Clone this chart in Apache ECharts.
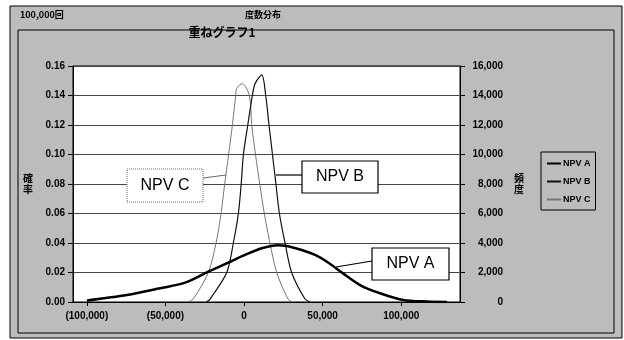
<!DOCTYPE html>
<html>
<head>
<meta charset="utf-8">
<script src="https://cdn.jsdelivr.net/npm/echarts@6/dist/echarts.min.js"></script>
<style>html,body{margin:0;padding:0;background:#fff}#c{width:624px;height:340px}</style>
</head>
<body>
<div id="c"></div>
<script>
// ---- data (value, probability) ----
const seriesNames = ['NPV A', 'NPV B', 'NPV C'];
const npvA = [
  [-99900, 0.001], [-74400, 0.0047], [-53400, 0.0093], [-37500, 0.0131], [-22700, 0.0206],
  [-7800, 0.0278], [600, 0.0319], [11300, 0.0364], [21800, 0.0384], [26100, 0.0382],
  [36700, 0.0353], [45200, 0.0319], [52800, 0.0273], [63000, 0.0194], [73800, 0.0115],
  [86500, 0.0059], [101100, 0.0014], [116400, 0.0003], [129100, 0.0]
];
const npvB = [
  [-24000, 0.0], [-21600, 0.002], [-11000, 0.02], [-6800, 0.04], [-3600, 0.06], [-1800, 0.08],
  [-400, 0.10], [2400, 0.12], [5300, 0.14], [7000, 0.148], [11300, 0.154], [13800, 0.14],
  [15900, 0.12], [18100, 0.10], [20300, 0.08], [22500, 0.06], [26100, 0.04], [30300, 0.02],
  [38800, 0.002], [42000, 0.0]
];
const npvC = [
  [-36000, 0.0], [-32400, 0.002], [-22700, 0.02], [-17800, 0.04], [-14600, 0.06], [-12300, 0.08],
  [-9800, 0.10], [-7400, 0.12], [-5300, 0.14], [-4600, 0.145], [-1100, 0.148], [3400, 0.14],
  [4900, 0.12], [7300, 0.10], [10000, 0.08], [12900, 0.06], [16500, 0.04], [20800, 0.02],
  [28000, 0.002], [31000, 0.0]
];
const xTicks = [-100000, -50000, 0, 50000, 100000];
const mainTitle = '重ねグラフ1';
const topLeftText = '100,000回';
const topCenterText = '度数分布';
const leftAxisName = '確\n率';
const rightAxisName = '頻\n度';

function fmtNum(v) {
  const s = Math.abs(v).toLocaleString('en-US');
  return v < 0 ? '(' + s + ')' : s;
}

const FONT = '"Liberation Sans", Arial, sans-serif';
const JFONT = '"Noto Sans CJK JP", sans-serif';
const bg = '#bcbcbc';

const chart = echarts.init(document.getElementById('c'));
chart.setOption({
  animation: false,
  backgroundColor: '#fff',
  textStyle: { fontFamily: FONT },
  graphic: [
    { type: 'rect', z: -10, shape: { x: 10, y: 6, width: 612, height: 332 },
      style: { fill: bg, stroke: '#000', lineWidth: 1 } },
    { type: 'rect', z: -9, shape: { x: 18, y: 30, width: 596, height: 303 },
      style: { fill: 'none', stroke: '#000', lineWidth: 1 } },
    { type: 'text', x: 20, y: 10, style: { text: topLeftText, font: 'bold 9px ' + JFONT, fill: '#000' } },
    { type: 'text', x: 263, y: 10, style: { text: topCenterText, font: 'bold 9px ' + JFONT, fill: '#000', align: 'center' } },
    { type: 'text', x: 222, y: 26, z: 10, style: { text: mainTitle, font: 'bold 12px ' + JFONT, fill: '#000', align: 'center' } },
    // label boxes
    { type: 'line', z: 20, shape: { x1: 203, y1: 178, x2: 226, y2: 175 }, style: { stroke: '#666', lineWidth: 1 } },
    { type: 'rect', z: 20, shape: { x: 127, y: 169, width: 76, height: 33 },
      style: { fill: '#fff', stroke: '#666', lineWidth: 1, lineDash: [1, 1] } },
    { type: 'text', z: 21, x: 165, y: 185.5, style: { text: 'NPV C', font: '16px ' + FONT, fill: '#000', align: 'center', verticalAlign: 'middle' } },
    { type: 'line', z: 20, shape: { x1: 276, y1: 175, x2: 302, y2: 175 }, style: { stroke: '#000', lineWidth: 1.2 } },
    { type: 'rect', z: 20, shape: { x: 302, y: 161, width: 76, height: 32 },
      style: { fill: '#fff', stroke: '#000', lineWidth: 1.2 } },
    { type: 'text', z: 21, x: 340, y: 177, style: { text: 'NPV B', font: '16px ' + FONT, fill: '#000', align: 'center', verticalAlign: 'middle' } },
    { type: 'line', z: 20, shape: { x1: 336, y1: 267, x2: 372, y2: 261 }, style: { stroke: '#000', lineWidth: 1.2 } },
    { type: 'rect', z: 20, shape: { x: 372, y: 248, width: 77, height: 32 },
      style: { fill: '#fff', stroke: '#000', lineWidth: 1.2 } },
    { type: 'text', z: 21, x: 410.5, y: 264, style: { text: 'NPV A', font: '16px ' + FONT, fill: '#000', align: 'center', verticalAlign: 'middle' } }
  ],
  legend: {
    orient: 'vertical', left: 541, top: 152, width: 62,
    padding: [7, 5, 6, 6], itemGap: 9, itemWidth: 14, itemHeight: 2, icon: 'rect',
    borderColor: '#000', borderWidth: 1, backgroundColor: 'transparent',
    textStyle: { fontSize: 9, fontWeight: 'bold', color: '#000', fontFamily: FONT, padding: [0, 0, 0, -3] },
    data: seriesNames
  },
  grid: { left: 73, right: 164, top: 66, bottom: 38, show: true, backgroundColor: '#fff', borderColor: '#000', borderWidth: 1 },
  xAxis: {
    type: 'value', min: -108800, max: 137400,
    axisLine: { show: true, onZero: false, lineStyle: { color: '#000' } },
    splitLine: { show: false },
    axisTick: { show: true, customValues: xTicks, length: 4, lineStyle: { color: '#000' } },
    axisLabel: { customValues: xTicks, formatter: fmtNum, margin: 9, fontSize: 10, fontWeight: 'bold', color: '#000', fontFamily: FONT }
  },
  yAxis: [
    {
      type: 'value', min: 0, max: 0.16, interval: 0.02, position: 'left',
      name: leftAxisName, nameLocation: 'middle', nameGap: 40, nameRotate: 0,
      nameTextStyle: { fontSize: 10, fontWeight: 'bold', color: '#000', fontFamily: JFONT, lineHeight: 11 },
      axisLine: { show: true, onZero: false, lineStyle: { color: '#000' } },
      axisTick: { show: true, length: 5, lineStyle: { color: '#000' } },
      splitLine: { show: true, lineStyle: { color: '#444', width: 1 } },
      axisLabel: { formatter: v => v.toFixed(2), margin: 8, fontSize: 10, fontWeight: 'bold', color: '#000', fontFamily: FONT }
    },
    {
      type: 'value', min: 0, max: 16000, interval: 2000, position: 'right',
      name: rightAxisName, nameLocation: 'middle', nameGap: 54, nameRotate: 0,
      nameTextStyle: { fontSize: 10, fontWeight: 'bold', color: '#000', fontFamily: JFONT, lineHeight: 11 },
      axisLine: { show: true, onZero: false, lineStyle: { color: '#000' } },
      axisTick: { show: true, length: 5, lineStyle: { color: '#000' } },
      splitLine: { show: false },
      axisLabel: { formatter: v => v.toLocaleString('en-US'), align: 'right', margin: 43, fontSize: 10, fontWeight: 'bold', color: '#000', fontFamily: FONT }
    }
  ],
  series: [
    { name: seriesNames[0], type: 'line', data: npvA, symbol: 'none', smooth: 0.3, yAxisIndex: 0,
      lineStyle: { color: '#000', width: 2.5 }, itemStyle: { color: '#000' }, z: 5 },
    { name: seriesNames[1], type: 'line', data: npvB, symbol: 'none', smooth: 0.3, yAxisIndex: 0,
      lineStyle: { color: '#111', width: 1.2 }, itemStyle: { color: '#111' }, z: 4 },
    { name: seriesNames[2], type: 'line', data: npvC, symbol: 'none', smooth: 0.3, yAxisIndex: 0,
      lineStyle: { color: '#777', width: 1 }, itemStyle: { color: '#777' }, z: 3 }
  ]
});
</script>
</body>
</html>
